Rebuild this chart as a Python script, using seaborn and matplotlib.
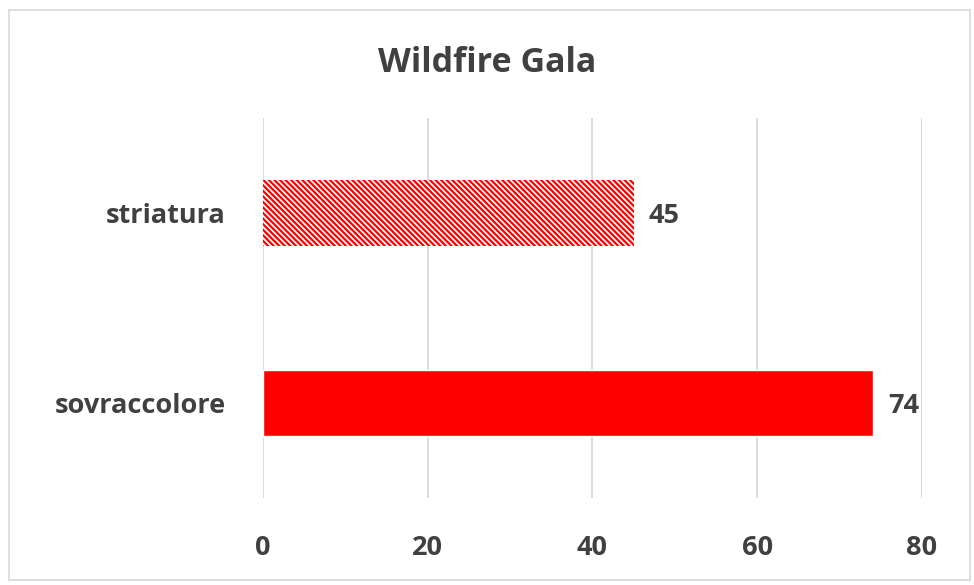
import matplotlib
matplotlib.use('Agg')
import matplotlib.pyplot as plt
import seaborn as sns
import pandas as pd
from matplotlib.patches import Rectangle

categories = ['striatura', 'sovraccolore']
values = [45, 74]
title = 'Wildfire Gala'
xticks = [0, 20, 40, 60, 80]

sns.set_style('white')
plt.rcParams['font.family'] = ['Open Sans', 'DejaVu Sans']
plt.rcParams['hatch.color'] = '#ff0000'
plt.rcParams['hatch.linewidth'] = 1.6

df = pd.DataFrame({'cat': categories, 'val': values})

fig = plt.figure(figsize=(9.74, 5.85), dpi=100)
ax = fig.add_axes([0.270, 0.149, 0.6766, 0.649])

sns.barplot(data=df, x='val', y='cat', orient='h', color='#ff0000',
            width=0.35, saturation=1, ax=ax)

# first bar: hatched (striped) fill
p = ax.patches[0]
p.set_facecolor('white')
p.set_hatch('\\\\\\\\\\\\')
p.set_edgecolor('#ff0000')
p.set_linewidth(0)

ax.set_xlim(0, 80)
ax.set_xticks(xticks)
ax.set_ylim(1.5, -0.5)
ax.grid(axis='x', color='#d9d9d9', linewidth=1.3)
ax.set_axisbelow(True)
for s in ax.spines.values():
    s.set_visible(False)
ax.set_xlabel('')
ax.set_ylabel('')
ax.tick_params(axis='both', length=0, labelsize=19.5, labelcolor='#404040')
ax.tick_params(axis='x', pad=27)
ax.tick_params(axis='y', pad=27)
for lab in ax.get_xticklabels() + ax.get_yticklabels():
    lab.set_fontweight('bold')

for i, v in enumerate(values):
    ax.annotate(str(v), xy=(v, i), xytext=(11, -2), textcoords='offset points',
                va='center', ha='left', fontsize=19.5, fontweight='bold', color='#404040')

fig.text(0.5, 0.893, title, ha='center', va='center', fontsize=24.5,
         fontweight='bold', color='#404040')

fig.patches.append(Rectangle((0.009, 0.008), 0.987, 0.975, transform=fig.transFigure,
                             fill=False, edgecolor='#d9d9d9', linewidth=1.2))

fig.savefig('out.png', dpi=100)
